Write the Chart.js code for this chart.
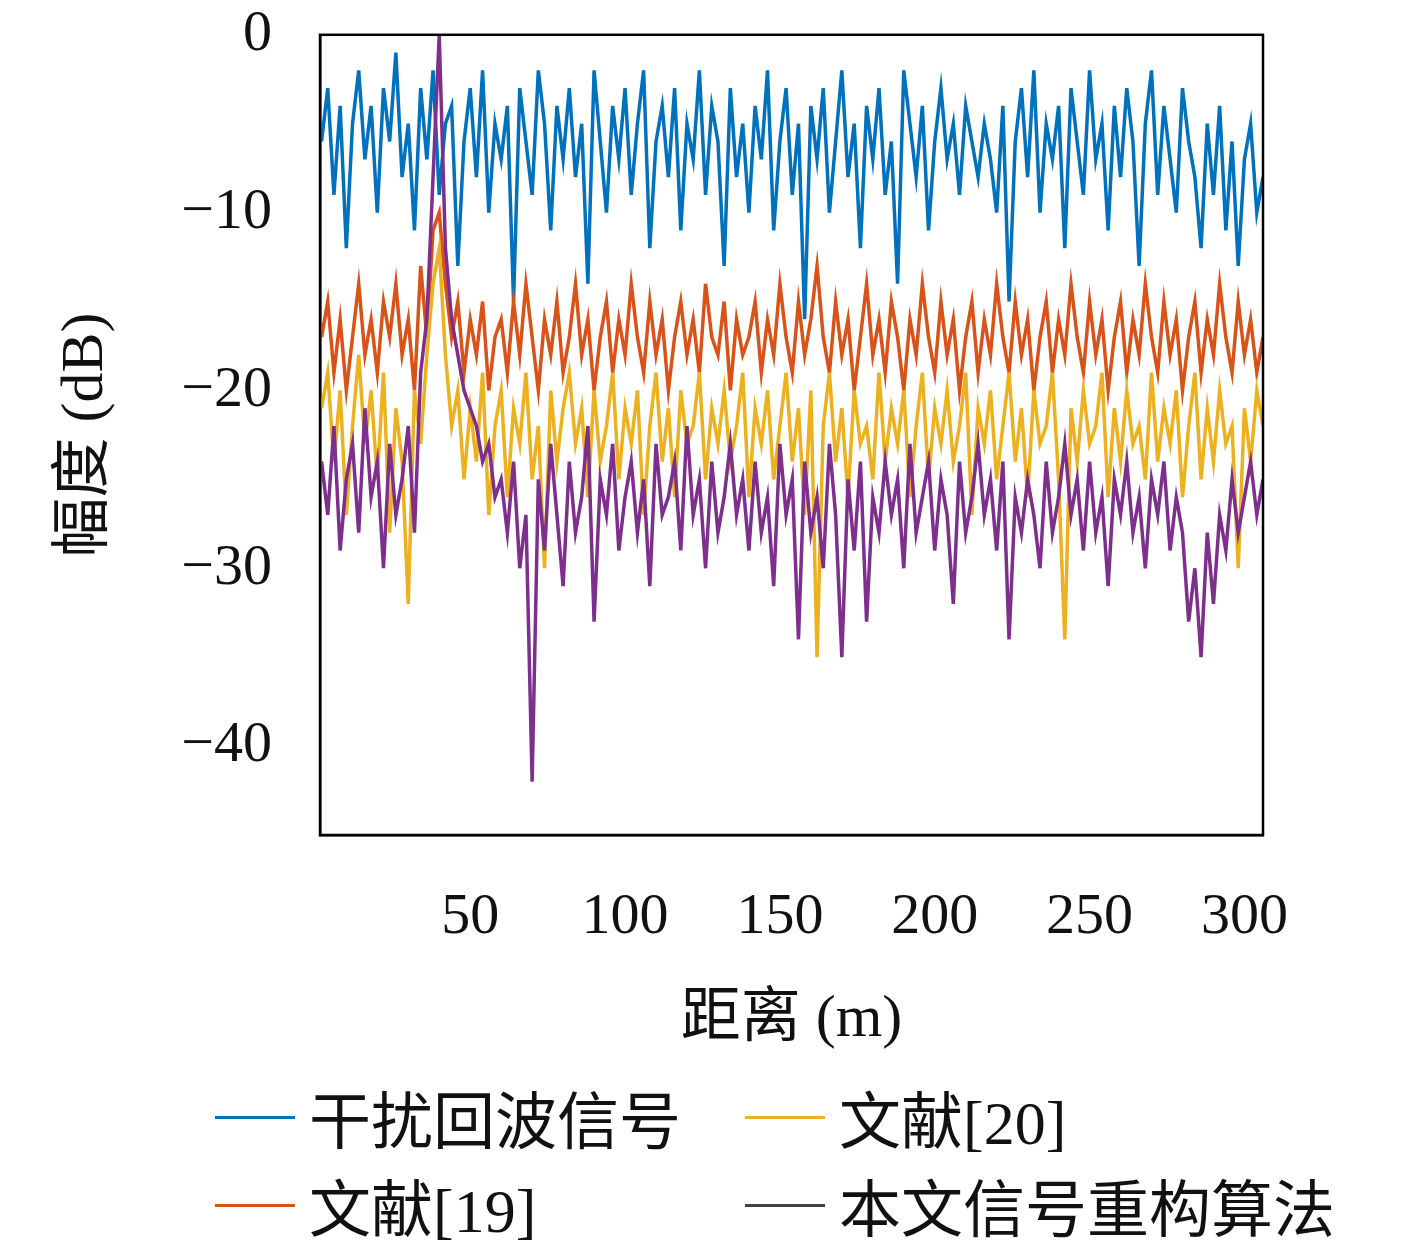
<!DOCTYPE html>
<html><head><meta charset="utf-8">
<script src="https://cdn.jsdelivr.net/npm/chart.js@4"></script>
<style>
body{margin:0;background:#fff;width:1417px;height:1250px;overflow:hidden;position:relative}
#c{position:absolute;left:0;top:-40px}
.legend{position:absolute;top:1082px;left:215px;display:grid;grid-template-columns:530px 640px;row-gap:18px;font-family:"Liberation Serif","Noto Sans CJK SC";font-size:62px;color:#111}
.legend div{display:flex;align-items:center;height:70px}
.legend span.sw{display:inline-block;width:80px;height:3px;margin-right:14px}
</style></head>
<body>
<canvas id="c" width="1417" height="1100"></canvas>
<div class="legend">
  <div><span class="sw" style="background:#0072BD"></span>干扰回波信号</div>
  <div><span class="sw" style="background:#EDB120"></span>文献[20]</div>
  <div><span class="sw" style="background:#D95319"></span>文献[19]</div>
  <div><span class="sw" style="background:#404040"></span>本文信号重构算法</div>
</div>
<script>
// distance axis (m), one sample every 2 m
var distances = [];
for (var i = 0; i < 153; i++) distances.push(2 + 2 * i);

var echo = [-6,-3,-9,-4,-12,-5,-2,-7,-4,-10,-3,-6,-1,-8,-5,-11,-3,-7,-2,-9,-5,-4,-13,-6,-3,-8,-2,-10,-5,-7,-4,-15,-3,-6,-9,-2,-5,-11,-4,-7,-3,-8,-5,-14,-2,-6,-10,-4,-7,-3,-9,-5,-2,-12,-6,-4,-8,-3,-11,-5,-7,-2,-9,-4,-6,-13,-3,-8,-5,-10,-4,-7,-2,-11,-6,-3,-9,-5,-16,-4,-7,-3,-10,-6,-2,-8,-5,-12,-4,-7,-3,-9,-6,-14,-2,-5,-8,-4,-11,-6,-3,-7,-5,-9,-4,-6,-8,-5,-7,-10,-4,-15,-6,-3,-8,-2,-10,-5,-7,-4,-12,-3,-6,-9,-2,-7,-5,-11,-4,-8,-3,-6,-13,-5,-2,-9,-4,-7,-10,-3,-6,-8,-12,-5,-9,-4,-11,-6,-13,-7,-5,-10,-8];
var ref19 = [-17,-15,-19,-16,-20,-17,-14,-18,-16,-19,-15,-17,-14,-18,-16,-20,-13,-17,-11,-10,-14,-17,-15,-19,-16,-18,-15,-20,-17,-16,-19,-15,-18,-14,-17,-20,-16,-18,-15,-19,-17,-14,-18,-16,-20,-17,-15,-19,-16,-18,-14,-17,-19,-15,-18,-16,-20,-17,-15,-18,-16,-19,-14,-17,-18,-15,-20,-16,-18,-17,-15,-19,-16,-18,-14,-17,-19,-15,-18,-16,-13,-17,-19,-15,-18,-16,-20,-17,-14,-18,-16,-19,-15,-17,-20,-16,-18,-14,-17,-19,-15,-18,-16,-20,-17,-15,-19,-16,-18,-14,-17,-19,-15,-18,-16,-20,-17,-15,-19,-16,-18,-14,-17,-19,-15,-18,-16,-20,-17,-15,-19,-16,-18,-14,-17,-19,-15,-18,-16,-20,-17,-15,-19,-16,-18,-14,-17,-19,-15,-18,-16,-19,-17];
var ref20 = [-21,-19,-24,-20,-27,-22,-18,-23,-20,-25,-19,-28,-21,-24,-32,-20,-23,-18,-14,-12,-18,-22,-20,-25,-21,-24,-19,-27,-22,-20,-26,-21,-23,-19,-25,-22,-30,-20,-24,-21,-19,-23,-21,-26,-20,-24,-22,-19,-25,-21,-23,-20,-27,-22,-19,-24,-21,-26,-20,-23,-22,-19,-25,-21,-23,-20,-24,-22,-19,-26,-21,-23,-20,-25,-22,-19,-24,-21,-27,-20,-35,-22,-19,-24,-21,-26,-20,-23,-22,-25,-19,-24,-21,-23,-20,-26,-22,-19,-25,-21,-23,-20,-24,-22,-19,-27,-21,-23,-20,-25,-22,-19,-24,-21,-26,-20,-23,-22,-19,-25,-34,-21,-24,-20,-23,-22,-19,-26,-21,-24,-20,-23,-22,-25,-19,-24,-21,-23,-20,-26,-22,-19,-25,-21,-24,-20,-23,-22,-30,-21,-24,-20,-22];
var proposed = [-24,-27,-22,-29,-25,-23,-28,-21,-26,-24,-30,-23,-27,-25,-22,-28,-19,-16,-8,0,-12,-16,-18,-20,-21,-22,-24,-23,-26,-25,-28,-24,-30,-27,-42,-25,-29,-23,-27,-31,-24,-28,-26,-22,-33,-25,-27,-23,-29,-26,-24,-28,-25,-31,-23,-27,-26,-24,-29,-22,-27,-25,-30,-24,-28,-26,-23,-27,-25,-29,-24,-28,-26,-31,-23,-27,-25,-34,-24,-28,-26,-30,-23,-27,-35,-25,-29,-24,-33,-26,-28,-24,-27,-25,-30,-23,-28,-26,-24,-29,-25,-27,-32,-24,-28,-26,-23,-27,-25,-29,-24,-34,-26,-28,-25,-27,-30,-24,-28,-26,-23,-27,-25,-29,-24,-28,-26,-31,-25,-27,-24,-28,-26,-30,-25,-27,-24,-29,-26,-28,-33,-30,-35,-28,-32,-27,-29,-25,-28,-26,-24,-27,-25];

var xTicks = [50, 100, 150, 200, 250, 300];
var yTicks = [0, -10, -20, -30, -40];

const pts = (arr) => arr.map((v, i) => ({x: distances[i], y: v}));
const line = (label, arr, color, order) => ({label: label, data: pts(arr), borderColor: color, borderWidth: 3.5, pointRadius: 0, tension: 0, order: order});

const frame = {
    id: 'frame',
    afterDraw(chart) {
        const a = chart.chartArea, ctx = chart.ctx;
        ctx.save();
        ctx.strokeStyle = '#000';
        ctx.lineWidth = 2.5;
        ctx.strokeRect(a.left, a.top, a.right - a.left, a.bottom - a.top);
        ctx.restore();
    }
};

const serif = "'Liberation Serif','Noto Sans CJK SC'";
new Chart(document.getElementById('c'), {
    type: 'line',
    data: {datasets: [
        line('干扰回波信号', echo, '#0072BD', 3),
        line('文献[19]', ref19, '#D95319', 2),
        line('文献[20]', ref20, '#EDB120', 1),
        line('本文信号重构算法', proposed, '#7E2F8E', 0)
    ]},
    options: {
        responsive: false, animation: false,
        layout: {padding: {left: 0, right: 154, top: 0, bottom: 0}},
        plugins: {legend: {display: false}, tooltip: {enabled: false}},
        scales: {
            x: {
                type: 'linear', min: 1.5, max: 306,
                afterBuildTicks: (s) => { s.ticks = xTicks.map(v => ({value: v})); },
                afterFit: (s) => { s.height = 225; },
                grid: {display: false},
                border: {color: '#000', width: 2.5},
                ticks: {color: '#111', font: {family: serif, size: 58}, padding: 40, maxRotation: 0},
                title: {display: true, text: '距离 (m)', color: '#111', font: {family: serif, size: 60}, padding: {top: 20}}
            },
            y: {
                min: -45, max: 0,
                afterBuildTicks: (s) => { s.ticks = yTicks.map(v => ({value: v})); },
                afterFit: (s) => { s.width = 320; },
                grid: {display: false},
                border: {color: '#000', width: 2.5},
                ticks: {color: '#111', font: {family: serif, size: 58}, padding: 40,
                    callback: (v) => String(v).replace('-', '−')},
                title: {display: true, text: '幅度 (dB)', color: '#111', font: {family: serif, size: 60}, padding: {top: 50, bottom: 0}}
            }
        }
    },
    plugins: [frame]
});
</script>
</body></html>
